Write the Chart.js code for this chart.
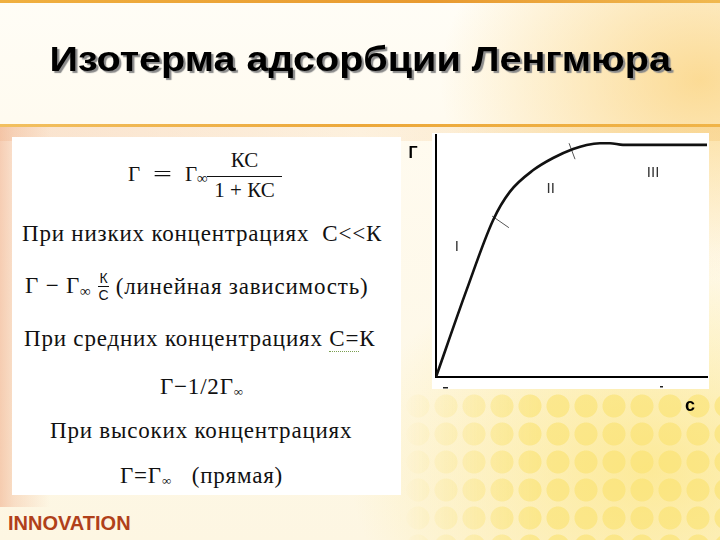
<!DOCTYPE html>
<html><head><meta charset="utf-8">
<script src="https://cdn.jsdelivr.net/npm/chart.js@4.4.1/dist/chart.umd.min.js"></script>
<style>
html,body{margin:0;padding:0;}
body{width:720px;height:540px;overflow:hidden;position:relative;font-family:"Liberation Sans",Arial,sans-serif;
background:
 radial-gradient(ellipse 260px 200px at 700px 80px, rgba(250,205,110,0.7), rgba(250,205,110,0) 100%),
 radial-gradient(ellipse 300px 220px at 650px 470px, rgba(252,228,120,0.7), rgba(252,228,120,0) 100%),
 linear-gradient(180deg,#fffdf6 0px,#fffbf0 120px,#fdf6e2 540px);}
.pink{position:absolute;left:0;top:127px;width:60px;height:380px;
 background:linear-gradient(90deg, rgba(240,175,140,0.6) 0px, rgba(240,175,140,0.35) 14px, rgba(240,175,140,0) 50px);}
.pinktop{position:absolute;left:0;top:127px;width:720px;height:14px;
 background:linear-gradient(90deg, rgba(240,180,140,0.35), rgba(245,200,150,0.2) 50%, rgba(245,200,120,0.4));}
.dots{position:absolute;left:400px;top:390px;width:320px;height:150px;
 background-image:radial-gradient(circle, rgba(250,226,110,0.6) 0, rgba(250,226,110,0.6) 11px, rgba(0,0,0,0) 12px);
 background-size:28px 28px;background-position:4px 2px;
 -webkit-mask-image:linear-gradient(90deg, rgba(0,0,0,0) 0, rgba(0,0,0,1) 140px);
 mask-image:linear-gradient(90deg, rgba(0,0,0,0) 0, rgba(0,0,0,1) 140px);}
.topline{position:absolute;left:0;top:0;width:720px;height:3px;background:linear-gradient(90deg,#f0b040,#e89a30 60%,#f0b850);}
.midline{position:absolute;left:0;top:124px;width:720px;height:3px;background:linear-gradient(90deg,#f2c060,#eca83a 50%,#f0b448);}
.title{position:absolute;left:0;top:41px;width:720px;text-align:center;font-weight:bold;font-size:35px;line-height:1;color:#000;
 text-shadow:2px 2px 1px #8a8a8a;transform:scaleX(1.13);transform-origin:358px 0;}
.box{position:absolute;left:12px;top:137px;width:389px;height:358px;background:#fff;}
.cbox{position:absolute;left:432px;top:133px;width:277px;height:256px;background:#fff;}
.ln{position:absolute;font-family:"Liberation Serif","Times New Roman",serif;font-size:23px;letter-spacing:0.8px;color:#111;white-space:nowrap;line-height:1;}
.f{position:absolute;font-family:"Liberation Serif","Times New Roman",serif;font-size:21px;color:#111;white-space:nowrap;line-height:1;}
.frac{display:inline-flex;flex-direction:column;align-items:center;vertical-align:middle;letter-spacing:0;}
.bar{display:block;height:1.3px;background:#111;align-self:stretch;}
.inno{position:absolute;left:8px;top:512px;font-weight:bold;font-size:20px;color:#b0401a;}
#wrap{position:absolute;left:400px;top:130px;width:320px;height:290px;}
</style></head>
<body>
<div class="pink"></div>
<div class="pinktop"></div>
<div class="dots"></div>
<div class="topline"></div>
<div class="midline"></div>
<div class="title">Изотерма адсорбции Ленгмюра</div>
<div class="box"></div>
<div class="cbox"></div>

<!-- Langmuir equation -->
<div class="f" style="left:128px;top:164px;">Г</div>
<div class="f" style="left:153px;top:164px;transform:scaleX(1.6);transform-origin:0 0;">=</div>
<div class="f" style="left:185px;top:164px;">Г</div>
<div class="f" style="left:197px;top:171px;font-size:15px;">∞</div>
<div class="f" style="left:207px;top:150px;width:75px;text-align:center;">КС</div>
<div style="position:absolute;left:207px;top:176px;width:75px;height:1.3px;background:#111;"></div>
<div class="f" style="left:207px;top:180px;width:75px;text-align:center;">1 + КС</div>

<div class="ln" style="left:22px;top:222px;">При низких концентрациях&nbsp; С&lt;&lt;К</div>
<div class="ln" style="left:25px;top:271px;display:flex;align-items:center;">
 <span>Г &minus; Г<sub style="font-size:15px;vertical-align:-3px">∞</sub>&nbsp;</span>
 <span class="frac" style="font-size:14px;width:11px;font-family:'Liberation Sans',Arial,sans-serif"><span style="padding-bottom:1px">К</span><span class="bar" style="height:1px"></span><span style="padding-top:1px">С</span></span>
 <span>&nbsp;(линейная зависимость)</span>
</div>
<div class="ln" style="left:24px;top:327px;">При средних концентрациях <span style="border-bottom:1.5px dotted #7aa050">С=</span>К</div>
<div class="ln" style="left:160px;top:375px;">Г&minus;1/2Г<sub style="font-size:13px;vertical-align:-2px">∞</sub></div>
<div class="ln" style="left:50px;top:419px;">При высоких концентрациях</div>
<div class="ln" style="left:120px;top:464px;">Г=Г<sub style="font-size:13px;vertical-align:-2px">∞</sub>&nbsp;&nbsp; (прямая)</div>

<div class="inno">INNOVATION</div>
<div id="wrap"><canvas id="c" width="320" height="290"></canvas></div>

<script>
// Isotherm curve (C, Г) in arbitrary units 0..100
const curveC = [0, 11.3, 21.1, 27.3, 35.9, 43.2, 50.6, 55.6, 60.5, 64.2, 69.0, 80.0, 100];
const curveG = [0, 36.0, 64.9, 76.6, 85.5, 90.5, 94.2, 95.9, 96.6, 96.6, 95.9, 95.9, 95.9];
// region boundary marks (short strokes crossing the curve)
const mark1C = [20.7, 26.9];
const mark1G = [66.5, 61.7];
const mark2C = [49.1, 51.3];
const mark2G = [96.6, 90.0];
// region labels
const regionNames = ["I", "II", "III"];
const regionC = [7.7, 42.3, 80.1];
const regionG = [53.7, 77.7, 84.3];
const axisYName = "Г";
const axisXName = "с";

const toPts = (xs, ys) => xs.map((x, i) => ({x: x, y: ys[i]}));

const labelsPlugin = {
  id: 'labels',
  afterDraw(chart) {
    const ctx = chart.ctx, xs = chart.scales.x, ys = chart.scales.y, ca = chart.chartArea;
    ctx.save();
    ctx.fillStyle = '#333';
    ctx.font = '15px "Liberation Sans", Arial, sans-serif';
    ctx.textAlign = 'center';
    ctx.textBaseline = 'middle';
    regionNames.forEach((t, i) => ctx.fillText(t, xs.getPixelForValue(regionC[i]), ys.getPixelForValue(regionG[i])));
    ctx.fillStyle = '#000';
    ctx.font = 'bold 16px "Liberation Sans", Arial, sans-serif';
    ctx.fillText(axisYName, ca.left - 23, ca.top + 19);
    ctx.font = 'bold 18px "Liberation Sans", Arial, sans-serif';
    ctx.fillText(axisXName, ca.right - 17, ca.bottom + 29);
    // small dashes below axis
    ctx.fillStyle = '#222';
    ctx.fillRect(ca.left + 7, ca.bottom + 10, 5, 1.5);
    ctx.fillRect(ca.left + 224, ca.bottom + 9, 3, 1.5);
    ctx.restore();
  }
};

new Chart(document.getElementById('c'), {
  type: 'scatter',
  data: {
    datasets: [
      {data: toPts(curveC, curveG), showLine: true, borderColor: '#111', borderWidth: 2.6, pointRadius: 0, cubicInterpolationMode: 'monotone', order: 1},
      {data: toPts(mark1C, mark1G), showLine: true, borderColor: '#555', borderWidth: 1, pointRadius: 0, order: 2},
      {data: toPts(mark2C, mark2G), showLine: true, borderColor: '#555', borderWidth: 1, pointRadius: 0, order: 2}
    ]
  },
  options: {
    responsive: false,
    animation: false,
    events: [],
    layout: {padding: {left: 36, top: 5, right: 13, bottom: 43}},
    plugins: {legend: {display: false}, tooltip: {enabled: false}},
    scales: {
      x: {type: 'linear', min: 0, max: 100, grid: {display: false, drawTicks: false}, ticks: {display: false}, border: {display: true, color: '#000', width: 2}},
      y: {type: 'linear', min: 0, max: 100, grid: {display: false, drawTicks: false}, ticks: {display: false}, border: {display: true, color: '#000', width: 2}}
    }
  },
  plugins: [labelsPlugin]
});
</script>
</body></html>
